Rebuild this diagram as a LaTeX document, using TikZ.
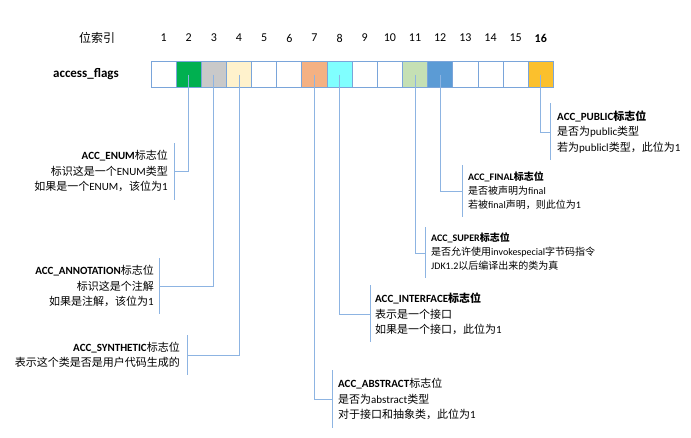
\documentclass[tikz,border=0pt]{standalone}
\usepackage{fontspec}
\setmainfont{Carlito}
\newfontfamily\cjk{Noto Sans CJK SC}
\newcommand\C[1]{{\cjk #1}}
\definecolor{cGreen}{HTML}{00B050}
\definecolor{cGray}{HTML}{C9C9C9}
\definecolor{cCream}{HTML}{FFF2CC}
\definecolor{cSalmon}{HTML}{F4B183}
\definecolor{cCyan}{HTML}{80FFFF}
\definecolor{cLGreen}{HTML}{C5E0B4}
\definecolor{cBlue}{HTML}{5B9BD5}
\definecolor{cOrange}{HTML}{FBC02D}
\definecolor{cBorder}{HTML}{7AA5DA}
\definecolor{cLine}{HTML}{8DB4E2}
\begin{document}
\begin{tikzpicture}[x=1pt,y=-1pt,
  cell/.style={draw=cBorder,line width=0.9pt,minimum width=25.15pt,minimum height=26.7pt,inner sep=0pt,outer sep=0pt},
  idx/.style={font=\fontsize{12}{14}\selectfont,inner sep=0pt},
  conn/.style={draw=cLine,line width=1pt},
  txtL/.style={anchor=west,align=left,inner sep=0pt,font=\fontsize{11}{15.5}\selectfont},
  txtR/.style={anchor=east,align=right,inner sep=0pt,font=\fontsize{11}{15.5}\selectfont},
  txtS/.style={anchor=west,align=left,inner sep=0pt,font=\fontsize{10}{14}\selectfont}]
\useasboundingbox (0,0) rectangle (691,437);
\fill[white] (0,0) rectangle (691,437);
% header
\node[idx] (hdr) at (97,38) {\C{位索引}};
\node[inner sep=0pt,font=\fontsize{13}{15}\selectfont\bfseries] (af) at (86,74) {access\_flags};
\foreach \i/\col in {1/white,2/cGreen,3/cGray,4/cCream,5/white,6/white,7/cSalmon,8/cCyan,9/white,10/white,11/cLGreen,12/cBlue,13/white,14/white,15/white,16/cOrange}{
  \node[cell,fill=\col] (c\i) at ({151+25.15*(\i-0.5)},74.5) {};
}
\foreach \i in {1,...,15}{
  \node[idx] (n\i) at ({151+25.15*(\i-0.5)},38) {\i};
}
\node[idx,font=\fontsize{12}{14}\selectfont\bfseries] (n16) at ({151+25.15*15.5},38) {16};
% coordinates for brackets
\coordinate (eJ) at (174,171); \coordinate (eT) at (174,143); \coordinate (eB) at (174,200);
\coordinate (aJ) at (159,286); \coordinate (aT) at (159,258); \coordinate (aB) at (159,314);
\coordinate (sJ) at (187,355); \coordinate (sT) at (187,335); \coordinate (sB) at (187,375);
\coordinate (bJ) at (332,399); \coordinate (bT) at (332,370); \coordinate (bB) at (332,428);
\coordinate (iJ) at (370,314); \coordinate (iT) at (370,285); \coordinate (iB) at (370,342);
\coordinate (uJ) at (425,253); \coordinate (uT) at (425,227); \coordinate (uB) at (425,278);
\coordinate (fJ) at (462,191); \coordinate (fT) at (462,165); \coordinate (fB) at (462,217);
\coordinate (pJ) at (550,132); \coordinate (pT) at (550,103); \coordinate (pB) at (550,160);
% connectors
\draw[conn] (c2.center) |- (eJ);  \draw[conn] (eT) -- (eB);
\draw[conn] (c3.center) |- (aJ);  \draw[conn] (aT) -- (aB);
\draw[conn] (c4.center) |- (sJ);  \draw[conn] (sT) -- (sB);
\draw[conn] (c7.center) |- (bJ);  \draw[conn] (bT) -- (bB);
\draw[conn] (c8.center) |- (iJ);  \draw[conn] (iT) -- (iB);
\draw[conn] (c11.center) |- (uJ); \draw[conn] (uT) -- (uB);
\draw[conn] (c12.center) |- (fJ); \draw[conn] (fT) -- (fB);
\draw[conn] (c16.center) |- (pJ); \draw[conn] (pT) -- (pB);
% texts
\node[txtR] (tE) at (168,171) {\textbf{ACC\_ENUM}\C{标志位}\\\C{标识这是一个}ENUM\C{类型}\\\C{如果是一个}ENUM\C{，该位为}1};
\node[txtR] (tA) at (154,286) {\textbf{ACC\_ANNOTATION}\C{标志位}\\\C{标识这是个注解}\\\C{如果是注解，该位为}1};
\node[txtR] (tS) at (180,355) {\textbf{ACC\_SYNTHETIC}\C{标志位}\\\C{表示这个类是否是用户代码生成的}};
\node[txtL] (tB) at (338,399) {\textbf{ACC\_ABSTRACT}\C{标志位}\\\C{是否为}abstract\C{类型}\\\C{对于接口和抽象类，此位为}1};
\node[txtL] (tI) at (375,314) {\textbf{ACC\_INTERFACE{\cjk\bfseries 标志位}}\\\C{表示是一个接口}\\\C{如果是一个接口，此位为}1};
\node[txtS] (tU) at (431,252) {\textbf{ACC\_SUPER{\cjk\bfseries 标志位}}\\\C{是否允许使用}invokespecial\C{字节码指令}\\JDK1.2\C{以后编译出来的类为真}};
\node[txtS] (tF) at (468,191) {\textbf{ACC\_FINAL{\cjk\bfseries 标志位}}\\\C{是否被声明为}final\\\C{若被}final\C{声明，则此位为}1};
\node[txtL] (tP) at (557,132) {\textbf{ACC\_PUBLIC{\cjk\bfseries 标志位}}\\\C{是否为}public\C{类型}\\\C{若为}publicl\C{类型，此位为}1};
\end{tikzpicture}
\end{document}
